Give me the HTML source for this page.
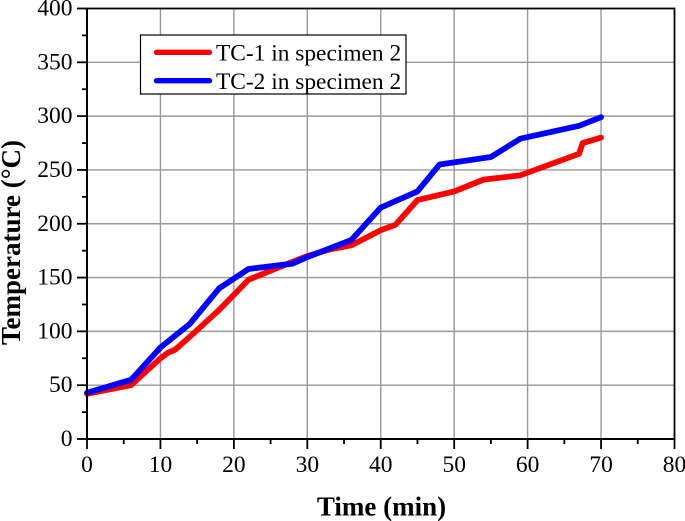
<!DOCTYPE html>
<html>
<head>
<meta charset="utf-8">
<style>
html,body{margin:0;padding:0;background:#fff;}
svg{display:block;}
text{font-family:"Liberation Serif",serif;fill:#000;}
</style>
</head>
<body>
<svg id="chart" width="685" height="521" viewBox="0 0 685 521" xmlns="http://www.w3.org/2000/svg"></svg>
<script>
const xTicks = [0, 10, 20, 30, 40, 50, 60, 70, 80];
const yTicks = [0, 50, 100, 150, 200, 250, 300, 350, 400];
const xMinorTicks = [5, 15, 25, 35, 45, 55, 65, 75];
const yMinorTicks = [25, 75, 125, 175, 225, 275, 325, 375];
const tc1Times = [0, 6, 10, 11, 12, 14, 18, 22, 27, 30, 33, 36, 40, 42, 45, 50, 54, 59, 67, 67.5, 70];
const tc1Temps = [42, 50, 75, 80, 83, 95, 120, 148, 162, 170, 176, 180, 194, 199, 222, 230, 241, 245, 265, 275, 280];
const tc2Times = [0, 6, 10, 14, 18, 22, 28, 30, 36, 40, 42, 45, 48, 50, 55, 59, 67, 70];
const tc2Temps = [43, 55, 85, 107, 140, 158, 163, 169, 185, 215, 221, 230, 255, 257, 262, 279, 291, 299];

const svg = document.getElementById('chart');
const NS = 'http://www.w3.org/2000/svg';
const sx = v => 87 + v * (674.5 - 87) / 80;
const sy = v => 439 - v * (439 - 8.5) / 400;

function make(tag, attrs, text) {
  const el = document.createElementNS(NS, tag);
  for (const k in attrs) el.setAttribute(k, attrs[k]);
  if (text !== undefined) el.textContent = text;
  svg.appendChild(el);
  return el;
}

// grid
xTicks.slice(1, -1).forEach(t => {
  const el = make('line', {x1: sx(t), x2: sx(t), y1: sy(0), y2: sy(400), stroke: '#999999', 'stroke-width': 1.4});
  
  
});
yTicks.slice(1, -1).forEach(t => {
  const el = make('line', {x1: sx(0), x2: sx(80), y1: sy(t), y2: sy(t), stroke: '#999999', 'stroke-width': 1.4});
  
  
});

// series
function series(xs, ys, color, name) {
  const pts = xs.map((x, i) => sx(x) + ',' + sy(ys[i])).join(' ');
  const el = make('polyline', {points: pts, fill: 'none', stroke: color, 'stroke-width': 5.8, 'stroke-linejoin': 'round', 'stroke-linecap': 'round'});
  
  
}
series(tc1Times, tc1Temps, '#ff0000', 'series-tc-1');
series(tc2Times, tc2Temps, '#0000ff', 'series-tc-2');

// frame
const frame = make('rect', {x: sx(0), y: sy(400), width: sx(80) - sx(0), height: sy(0) - sy(400), fill: 'none', stroke: '#000', 'stroke-width': 1.8});


const xAxis = make('line', {x1: sx(0), x2: sx(80), y1: sy(0), y2: sy(0), stroke: '#000', 'stroke-width': 2});


const yAxis = make('line', {x1: sx(0), x2: sx(0), y1: sy(0), y2: sy(400), stroke: '#000', 'stroke-width': 2});



// ticks and labels
xTicks.forEach(t => {
  const tick = make('line', {x1: sx(t), x2: sx(t), y1: sy(0), y2: sy(0) + 10, stroke: '#000', 'stroke-width': 1.8});
  
  
  const label = make('text', {x: sx(t), y: 472, 'font-size': 23.5, 'text-anchor': 'middle'}, String(t));
  
  
});
xMinorTicks.forEach(t => {
  const tick = make('line', {x1: sx(t), x2: sx(t), y1: sy(0), y2: sy(0) + 5, stroke: '#000', 'stroke-width': 1.8});
  
  
});
yTicks.forEach(t => {
  const tick = make('line', {x1: sx(0) - 10, x2: sx(0), y1: sy(t), y2: sy(t), stroke: '#000', 'stroke-width': 1.8});
  
  
  const label = make('text', {x: 72.5, y: sy(t) + 7, 'font-size': 23.5, 'text-anchor': 'end'}, String(t));
  
  
});
yMinorTicks.forEach(t => {
  const tick = make('line', {x1: sx(0) - 5, x2: sx(0), y1: sy(t), y2: sy(t), stroke: '#000', 'stroke-width': 1.8});
  
  
});

// axis titles
const xTitle = make('text', {x: 381.5, y: 515.5, 'font-size': 27, 'font-weight': 'bold', 'text-anchor': 'middle'}, 'Time (min)');


const yTitle = make('text', {x: 0, y: 0, 'font-size': 27, 'font-weight': 'bold', 'text-anchor': 'middle', transform: 'translate(20,242.5) rotate(-90)'}, 'Temperature (°C)');



// legend
const legendBox = make('rect', {x: 140.5, y: 35, width: 265.5, height: 59, fill: '#fff', stroke: '#000', 'stroke-width': 1.2});


const swatch1 = make('line', {x1: 156.5, x2: 209.5, y1: 52.3, y2: 52.3, stroke: '#ff0000', 'stroke-width': 5.4, 'stroke-linecap': 'round'});


const swatch2 = make('line', {x1: 156.5, x2: 209.5, y1: 80.7, y2: 80.7, stroke: '#0000ff', 'stroke-width': 5.4, 'stroke-linecap': 'round'});


const legend1 = make('text', {x: 216, y: 60.5, 'font-size': 23.4}, 'TC-1 in specimen 2');


const legend2 = make('text', {x: 216, y: 89, 'font-size': 23.4}, 'TC-2 in specimen 2');


</script>
</body>
</html>
